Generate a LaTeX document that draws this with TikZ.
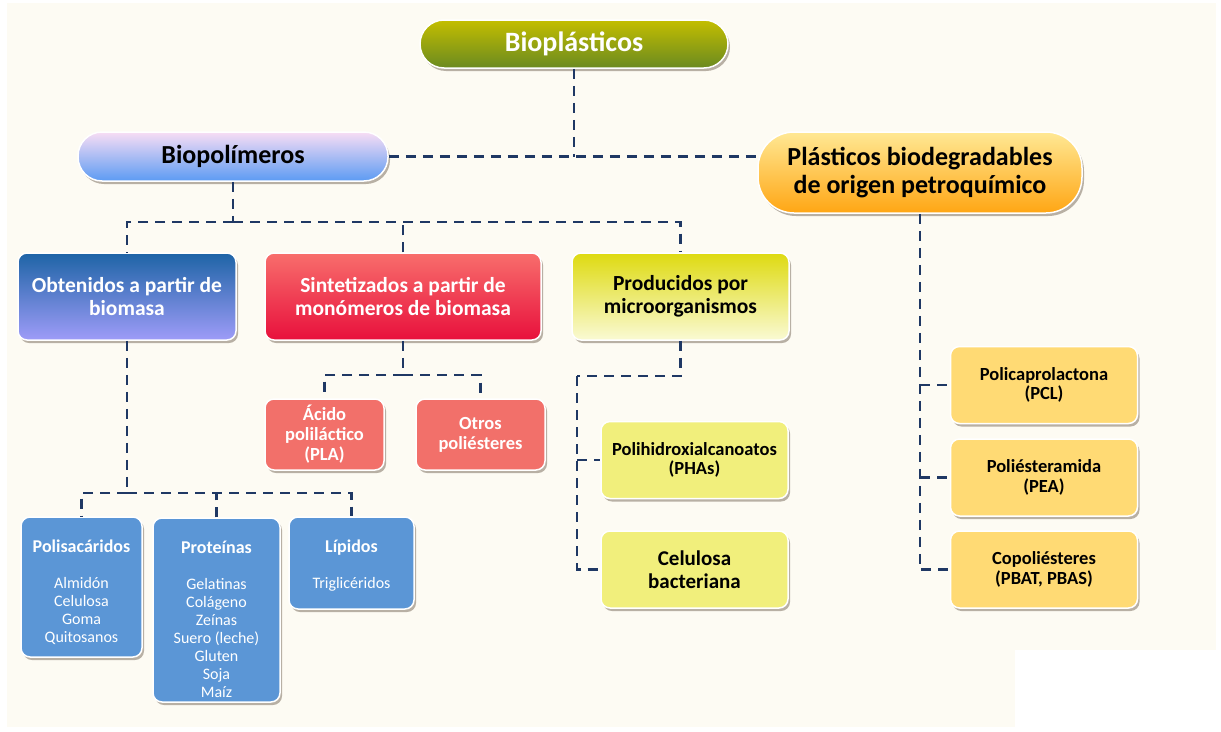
\documentclass[tikz,border=0pt]{standalone}
\usepackage{fontspec}
\setmainfont{Carlito}
\usetikzlibrary{shapes.geometric, arrows, shadows, positioning}

\definecolor{fondo}{HTML}{FDFBF3}
\definecolor{linea}{HTML}{1F3864}
\definecolor{olivoA}{HTML}{C4BE00}
\definecolor{olivoB}{HTML}{6A8A20}
\definecolor{lilaA}{HTML}{F8DDF4}
\definecolor{lilaB}{HTML}{5C9BF3}
\definecolor{naranjaA}{HTML}{FFE894}
\definecolor{naranjaM}{HTML}{FFC814}
\definecolor{naranjaB}{HTML}{FFA614}
\definecolor{azulA}{HTML}{1E64A6}
\definecolor{azulB}{HTML}{9E9CF8}
\definecolor{rojoA}{HTML}{F86E6C}
\definecolor{rojoB}{HTML}{E8103C}
\definecolor{limaA}{HTML}{DEDA10}
\definecolor{limaB}{HTML}{FAFAD4}
\definecolor{salmon}{HTML}{F2706A}
\definecolor{amarillo}{HTML}{F1EF7C}
\definecolor{oro}{HTML}{FFDA74}
\definecolor{celeste}{HTML}{5B96D6}

\tikzstyle{sombra} = [drop shadow={shadow xshift=2pt, shadow yshift=-3pt, opacity=0.35, fill=black!70!brown}]
\tikzstyle{pildora} = [rectangle, rounded corners=24pt, draw=white, line width=1.5pt, align=center, sombra, font=\fontsize{26}{28}\selectfont\bfseries]
\tikzstyle{mediana} = [rectangle, rounded corners=9pt, draw=white, line width=1.5pt, align=center, sombra, minimum height=87pt, font=\fontsize{21.5}{22.5}\selectfont\bfseries]
\tikzstyle{hoja} = [rectangle, rounded corners=9pt, draw=white, line width=1.5pt, align=center, sombra, minimum width=187pt, minimum height=77pt, font=\fontsize{18.5}{19.5}\selectfont\bfseries]
\tikzstyle{lista} = [rectangle, rounded corners=9pt, draw=white, line width=1.5pt, align=center, sombra, fill=celeste, text=white, font=\fontsize{16}{18}\selectfont]
\tikzstyle{conector} = [line width=2.3pt, draw=linea, dash pattern=on 10pt off 7pt]
\newcommand{\titulo}[2]{\rule{0pt}{#1}{\fontsize{18}{18}\selectfont\bfseries #2}}

\begin{document}
\begin{tikzpicture}[x=1pt, y=-1pt]

% fondo
\fill [white] (0,0) rectangle (1221,731);
\fill [fondo] (7,3) rectangle (1216,727);
\fill [white] (1015,650) rectangle (1221,731);

% primer y segundo nivel
\node (bioplasticos) [pildora, top color=olivoA, bottom color=olivoB, text=white, font=\fontsize{28}{28}\selectfont\bfseries, minimum width=308pt, minimum height=48pt] at (574,44) {Bioplásticos};
\node (biopolimeros) [pildora, top color=lilaA, bottom color=lilaB, minimum width=310pt, minimum height=49pt] at (233,156.5) {Biopolímeros};
\node (petro) [pildora, rounded corners=36pt, top color=naranjaA, middle color=naranjaM, bottom color=naranjaB, minimum width=324pt, minimum height=81pt] at (920,172.5) {Plásticos biodegradables\\de origen petroquímico};

\node (obtenidos) [mediana, top color=azulA, bottom color=azulB, text=white, minimum width=218pt] at (127,296.5) {Obtenidos a partir de\\biomasa};
\node (sintetizados) [mediana, top color=rojoA, bottom color=rojoB, text=white, minimum width=276pt] at (403,296.5) {Sintetizados a partir de\\monómeros de biomasa};
\node (producidos) [mediana, top color=limaA, bottom color=limaB, minimum width=217pt] at (680.5,296.5) {Producidos por\\microorganismos};

% hojas
\node (acido) [hoja, fill=salmon, text=white, minimum width=119pt, minimum height=71pt, font=\fontsize{18.5}{20}\selectfont\bfseries] at (324.5,434.5) {Ácido\\poliláctico\\(PLA)};
\node (otros) [hoja, fill=salmon, text=white, minimum width=129pt, minimum height=71pt, font=\fontsize{18.5}{20}\selectfont\bfseries, right of=acido, node distance=156pt] {Otros\\poliésteres};

\node (pha) [hoja, fill=amarillo] at (694.5,460) {Polihidroxialcanoatos\\(PHAs)};
\node (celulosa) [hoja, fill=amarillo, font=\fontsize{21}{23}\selectfont\bfseries, below of=pha, node distance=109.5pt] {Celulosa\\bacteriana};

\node (pcl) [hoja, fill=oro] at (1044,385) {Policaprolactona\\(PCL)};
\node (pea) [hoja, fill=oro, below of=pcl, node distance=92.5pt] {Poliésteramida\\(PEA)};
\node (copol) [hoja, fill=oro, below of=pea, node distance=92pt] {Copoliésteres\\(PBAT, PBAS)};

\node (polisacaridos) [lista, minimum width=121pt, minimum height=140pt] at (81.5,587) {\titulo{24pt}{Polisacáridos}\\[18pt]Almidón\\Celulosa\\Goma\\Quitosanos};
\node (proteinas) [lista, minimum width=127pt, minimum height=184pt] at (216.5,610) {\titulo{31pt}{Proteínas}\\[18pt]Gelatinas\\Colágeno\\Zeínas\\Suero (leche)\\Gluten\\Soja\\Maíz};
\node (lipidos) [lista, minimum width=125pt, minimum height=92pt] at (351.5,563) {\titulo{17.5pt}{Lípidos}\\[18pt]Triglicéridos};

% uniones
\coordinate (j1) at (233,222);
\coordinate (j2) at (127,493);
\coordinate (j3) at (403,375);
\coordinate (j4) at (577,376);

\draw [conector] (bioplasticos.south) -- (bioplasticos.south |- biopolimeros.east);
\draw [conector] (biopolimeros.east) -- (biopolimeros.east -| petro.west);

\draw [conector] (biopolimeros.south) -- (j1);
\draw [conector] (j1) -| (obtenidos.north);
\draw [conector] (j1) -| (producidos.north);
\draw [conector] (sintetizados.north) -- (sintetizados.north |- j1);

\draw [conector] (obtenidos.south) -- (j2);
\draw [conector] (j2) -| (polisacaridos.north);
\draw [conector] (j2) -| (lipidos.north);
\draw [conector] (proteinas.north) -- (proteinas.north |- j2);

\draw [conector] (sintetizados.south) -- (j3);
\draw [conector] (j3) -| (acido.north);
\draw [conector] (j3) -| (otros.north);

\draw [conector] (producidos.south) |- (j4);
\draw [conector] (j4) |- (celulosa.west);
\draw [conector] (j4 |- pha.west) -- (pha.west);

\draw [conector] (petro.south) |- (copol.west);
\draw [conector] (petro.south |- pcl.west) -- (pcl.west);
\draw [conector] (petro.south |- pea.west) -- (pea.west);

\end{tikzpicture}
\end{document}
